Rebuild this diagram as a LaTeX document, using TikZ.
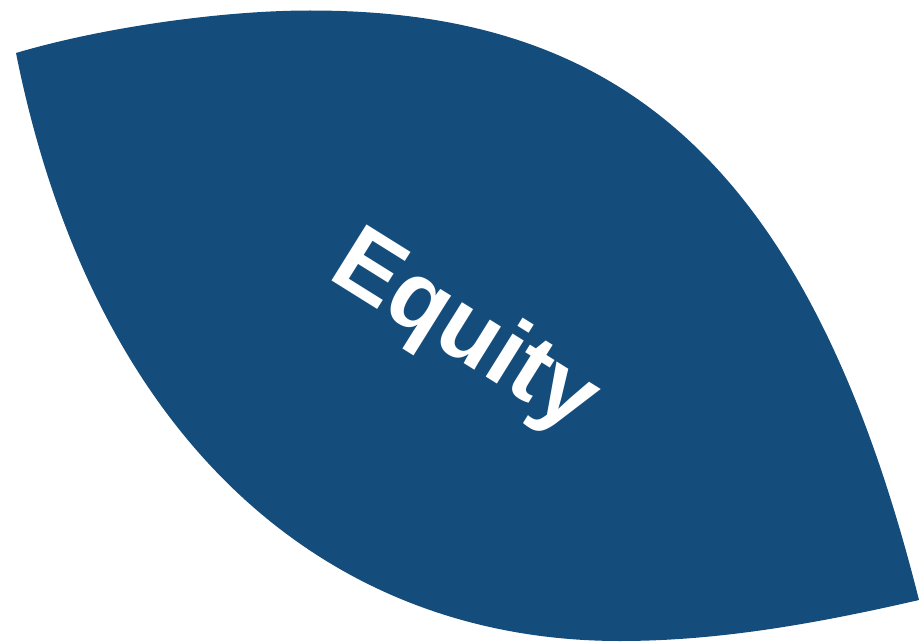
\documentclass[tikz,border=0pt]{standalone}
\usepackage{fontspec}
\setmainfont{Liberation Sans}
\definecolor{leafcolor}{RGB}{20,77,124}
\colorlet{labelcolor}{white}
\tikzset{leaf/.style={fill=leafcolor}}

\begin{document}
\begin{tikzpicture}[x=1pt,y=-1pt]
        \useasboundingbox (0,0) rectangle (919,642);
        \coordinate (L) at (16,53);
        \coordinate (T) at (310,10.5);
        \coordinate (R) at (919,600);
        \coordinate (B) at (620,641);

        \fill[leaf] (L) .. controls (100,28) and (220,10.5) .. (T)
                .. controls (610,10.5) and (806,150) .. (R)
                .. controls (819,623) and (720,641) .. (B)
                .. controls (320,641) and (92,433) .. (L) -- cycle;

        \node (Eq) at (464,334) [rotate=-32, inner sep=0pt, text=labelcolor]
                {\fontsize{96}{100}\selectfont\bfseries Equity};
\end{tikzpicture}
\end{document}
